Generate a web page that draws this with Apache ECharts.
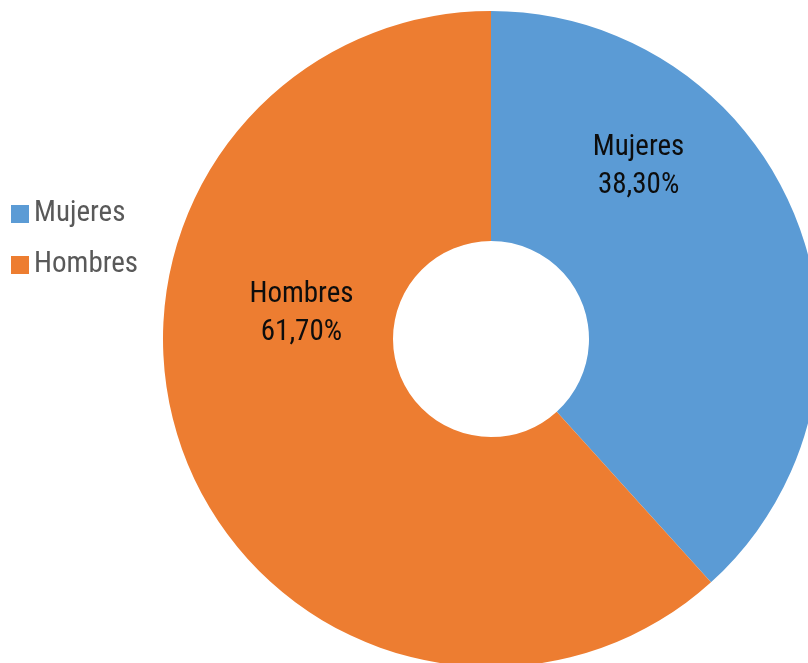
<!DOCTYPE html>
<html>
<head>
<meta charset="utf-8">
<script src="https://cdn.jsdelivr.net/npm/echarts@6/dist/echarts.min.js"></script>
<style>html,body{margin:0;padding:0;background:#fff}#c{width:808px;height:663px}</style>
</head>
<body>
<div id="c"></div>
<script>
const categories = ["Mujeres", "Hombres"];
const values = [38.3, 61.7];
const colors = ["#5B9BD5", "#ED7D31"];
const labelShift = [[-54, -95], [12, -103]];

const FONT = "'Roboto Condensed', 'Liberation Sans Narrow', 'Arial Narrow', sans-serif";
const chart = echarts.init(document.getElementById('c'));
chart.setOption({
  animation: false,
  color: colors,
  legend: {
    orient: 'vertical',
    left: 6,
    top: 192,
    icon: 'rect',
    itemWidth: 18,
    itemHeight: 18,
    itemGap: 17,
    data: categories,
    textStyle: { fontFamily: FONT, fontSize: 29, color: '#595959', lineHeight: 34 }
  },
  series: [{
    type: 'pie',
    center: [491, 339],
    radius: [98, 328],
    startAngle: 90,
    clockwise: true,
    data: categories.map((c, i) => ({ name: c, value: values[i] })),
    label: {
      show: true,
      position: 'inside',
      fontFamily: FONT,
      fontSize: 29,
      lineHeight: 38,
      color: '#0d0d0d',
      formatter: p => p.name + '\n' + p.value.toFixed(2).replace('.', ',') + '%'
    },
    labelLayout: p => ({ dx: labelShift[p.dataIndex][0], dy: labelShift[p.dataIndex][1] }),
    labelLine: { show: false },
    itemStyle: { borderWidth: 0 },
    emphasis: { disabled: true }
  }]
});
</script>
</body>
</html>
